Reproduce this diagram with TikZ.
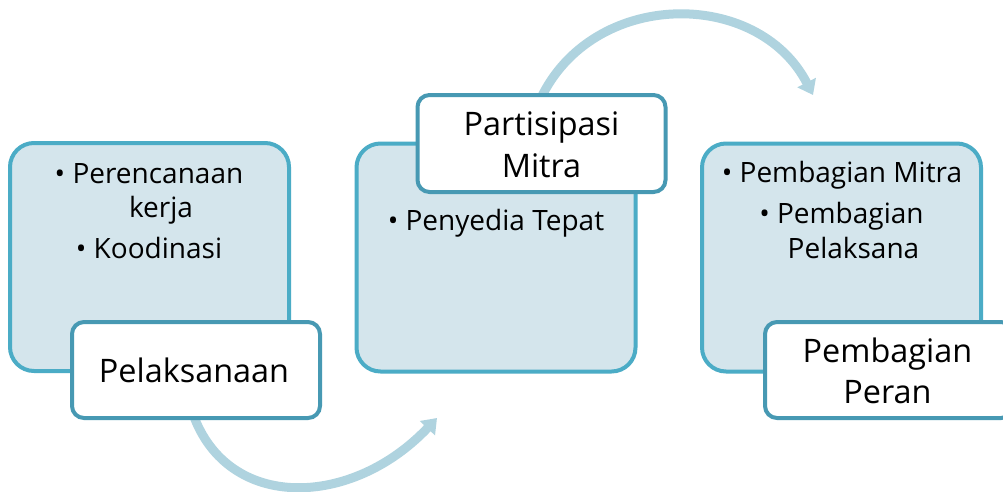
\documentclass[tikz,border=0pt]{standalone}
\usepackage{fontspec}
\setmainfont{Open Sans}
\usetikzlibrary{arrows.meta}
\definecolor{boxfill}{HTML}{D4E5EC}
\definecolor{boxline}{HTML}{4BACC6}
\definecolor{tagline}{HTML}{4799B3}
\definecolor{arrowc}{HTML}{AFD3DF}
\tikzset{
  x=1pt, y=-1pt,
  bigbox/.style={draw=boxline, fill=boxfill, line width=4pt, rounded corners=24pt,
    inner sep=0pt, outer sep=0pt, minimum width=279pt, minimum height=228pt},
  tagbox/.style={draw=tagline, fill=white, line width=4pt, rounded corners=12pt,
    inner sep=0pt, outer sep=0pt, minimum width=248pt, minimum height=96pt},
  bul/.style={anchor=base, inner sep=0pt, font=\fontsize{28}{34}\selectfont},
  lab/.style={anchor=base, inner sep=0pt, font=\fontsize{32.4}{38}\selectfont},
  flow/.style={draw=arrowc, line width=9pt, -{Triangle[width=20pt,length=14pt]}}
}
\begin{document}
\begin{tikzpicture}
\clip (0,0) rectangle (1003,491);
\fill[white] (0,0) rectangle (1003,491);
% connector coordinates
\coordinate (a1s) at (193,414);
\coordinate (a1e) at (437,418);
\coordinate (a2s) at (540,100);
\coordinate (a2e) at (813,95);
\draw[flow] (a1s) .. controls (228,512) and (352,508) .. (a1e);
\draw[flow] (a2s) .. controls (592,-12) and (758,-12) .. (a2e);
% big boxes
\node[bigbox] (box1) at (149.5,257) {};
\node[bigbox] (box2) at (496,257.5) {};
\node[bigbox] (box3) at (841.5,257.5) {};
% tags
\node[tagbox] (tag1) at (196,370) {};
\node[tagbox, minimum height=97pt] (tag2) at (541.5,143.5) {};
\node[tagbox] (tag3) at (889,370) {};
% box 1 text
\node[bul] (t11) at (149,183) {\textbullet\ Perencanaan};
\node[bul] (t12) at (161,217) {kerja};
\node[bul] (t13) at (149,258) {\textbullet\ Koodinasi};
% box 2 text
\node[bul] (t21) at (496,230) {\textbullet\ Penyedia Tepat};
% box 3 text
\node[bul] (t31) at (842,182) {\textbullet\ Pembagian Mitra};
\node[bul] (t32) at (841.5,223) {\textbullet\ Pembagian};
\node[bul] (t33) at (853.5,258) {Pelaksana};
% tag labels
\node[lab] (l1) at (194,382) {Pelaksanaan};
\node[lab] (l21) at (541.5,135) {Partisipasi};
\node[lab] (l22) at (541.5,177) {Mitra};
\node[lab] (l31) at (887.5,362) {Pembagian};
\node[lab] (l32) at (887.5,403) {Peran};
\end{tikzpicture}
\end{document}
